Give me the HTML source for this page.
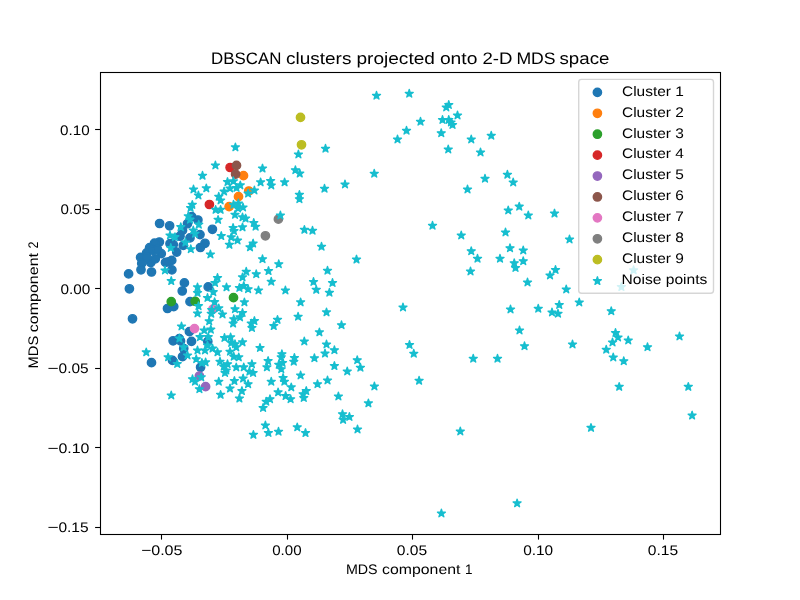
<!DOCTYPE html>
<html><head><meta charset="utf-8"><style>
html,body{margin:0;padding:0;background:#fff;}
svg{display:block;will-change:transform;}
text{font-family:"Liberation Sans", sans-serif;fill:#000;text-rendering:geometricPrecision;}
</style></head><body>
<svg width="800" height="600" viewBox="0 0 800 600">
<rect x="0" y="0" width="800" height="600" fill="#fff"/>
<defs><path id="st" d="M0.000 -4.167 L-0.935 -1.288 L-3.963 -1.288 L-1.514 0.492 L-2.449 3.371 L-0.000 1.592 L2.449 3.371 L1.514 0.492 L3.963 -1.288 L0.935 -1.288 Z"/></defs>
<g stroke-width="1.389" stroke-linejoin="round">
<g fill="#1f77b4" stroke="#1f77b4">
<circle cx="169.6" cy="225.8" r="4.167"/>
<circle cx="159.6" cy="223.5" r="4.167"/>
<circle cx="212.4" cy="229.3" r="4.167"/>
<circle cx="191.7" cy="216.65" r="4.167"/>
<circle cx="197.9" cy="220" r="4.167"/>
<circle cx="200" cy="234.6" r="4.167"/>
<circle cx="205" cy="243.3" r="4.167"/>
<circle cx="200.4" cy="247.5" r="4.167"/>
<circle cx="187.5" cy="223.7" r="4.167"/>
<circle cx="182.5" cy="230.4" r="4.167"/>
<circle cx="180" cy="236.2" r="4.167"/>
<circle cx="190" cy="237.9" r="4.167"/>
<circle cx="183.3" cy="245.4" r="4.167"/>
<circle cx="170" cy="243.7" r="4.167"/>
<circle cx="173.3" cy="244.6" r="4.167"/>
<circle cx="176.7" cy="252.1" r="4.167"/>
<circle cx="159.4" cy="242" r="4.167"/>
<circle cx="154.5" cy="243.15" r="4.167"/>
<circle cx="149.6" cy="247.65" r="4.167"/>
<circle cx="146.6" cy="252.9" r="4.167"/>
<circle cx="161.25" cy="253.65" r="4.167"/>
<circle cx="140.6" cy="257.4" r="4.167"/>
<circle cx="141.75" cy="263.4" r="4.167"/>
<circle cx="141" cy="269.8" r="4.167"/>
<circle cx="150.75" cy="262.65" r="4.167"/>
<circle cx="155.25" cy="258.9" r="4.167"/>
<circle cx="147" cy="257.4" r="4.167"/>
<circle cx="151.5" cy="272" r="4.167"/>
<circle cx="128.6" cy="273.9" r="4.167"/>
<circle cx="168.75" cy="261.9" r="4.167"/>
<circle cx="171.75" cy="260.4" r="4.167"/>
<circle cx="171.9" cy="269.9" r="4.167"/>
<circle cx="184.4" cy="282.9" r="4.167"/>
<circle cx="129.4" cy="288.8" r="4.167"/>
<circle cx="132.5" cy="318.8" r="4.167"/>
<circle cx="182.25" cy="291" r="4.167"/>
<circle cx="167.5" cy="308.5" r="4.167"/>
<circle cx="173.75" cy="306.65" r="4.167"/>
<circle cx="190" cy="301.65" r="4.167"/>
<circle cx="208.2" cy="286.9" r="4.167"/>
<circle cx="189.4" cy="331.65" r="4.167"/>
<circle cx="173.1" cy="340.8" r="4.167"/>
<circle cx="179.3" cy="338.6" r="4.167"/>
<circle cx="191.5" cy="341.4" r="4.167"/>
<circle cx="180.5" cy="340.9" r="4.167"/>
<circle cx="183.75" cy="348.5" r="4.167"/>
<circle cx="207.8" cy="341.4" r="4.167"/>
<circle cx="151.5" cy="362.65" r="4.167"/>
<circle cx="172.5" cy="360.4" r="4.167"/>
<circle cx="182.5" cy="356.65" r="4.167"/>
<circle cx="200.6" cy="367.3" r="4.167"/>
<circle cx="153" cy="250.4" r="4.167"/>
<circle cx="157.5" cy="249.4" r="4.167"/>
<circle cx="165.5" cy="262.4" r="4.167"/>
</g>
<g fill="#ff7f0e" stroke="#ff7f0e">
<circle cx="243.5" cy="175.65" r="4.167"/>
<circle cx="248.75" cy="191" r="4.167"/>
<circle cx="238.5" cy="196.65" r="4.167"/>
<circle cx="229.1" cy="206.65" r="4.167"/>
</g>
<g fill="#2ca02c" stroke="#2ca02c">
<circle cx="171.25" cy="301.65" r="4.167"/>
<circle cx="195.2" cy="301.4" r="4.167"/>
<circle cx="233.5" cy="297.65" r="4.167"/>
</g>
<g fill="#d62728" stroke="#d62728">
<circle cx="209.4" cy="204.5" r="4.167"/>
<circle cx="230.1" cy="167.5" r="4.167"/>
</g>
<g fill="#9467bd" stroke="#9467bd">
<circle cx="199.4" cy="376" r="4.167"/>
<circle cx="205.6" cy="386.65" r="4.167"/>
</g>
<g fill="#8c564b" stroke="#8c564b">
<circle cx="236.5" cy="165.4" r="4.167"/>
<circle cx="235.6" cy="174.15" r="4.167"/>
</g>
<g fill="#e377c2" stroke="#e377c2">
<circle cx="194.5" cy="328.6" r="4.167"/>
<circle cx="212.9" cy="309.15" r="4.167"/>
</g>
<g fill="#7f7f7f" stroke="#7f7f7f">
<circle cx="278.4" cy="219.15" r="4.167"/>
<circle cx="265.4" cy="235.8" r="4.167"/>
</g>
<g fill="#bcbd22" stroke="#bcbd22">
<circle cx="301.5" cy="144.8" r="4.167"/>
<circle cx="300.5" cy="117.4" r="4.167"/>
</g>
<g fill="#17becf" stroke="#17becf">
<use href="#st" x="215.4" y="165.4"/>
<use href="#st" x="202.5" y="175.7"/>
<use href="#st" x="193.5" y="189.4"/>
<use href="#st" x="206.3" y="188.3"/>
<use href="#st" x="198.4" y="195.4"/>
<use href="#st" x="192.3" y="204.8"/>
<use href="#st" x="190.6" y="207.9"/>
<use href="#st" x="218.75" y="196.65"/>
<use href="#st" x="220.6" y="200.4"/>
<use href="#st" x="215.6" y="209.8"/>
<use href="#st" x="220.6" y="209.8"/>
<use href="#st" x="235.4" y="147.3"/>
<use href="#st" x="298.4" y="154.4"/>
<use href="#st" x="262.5" y="168.5"/>
<use href="#st" x="295.4" y="170.15"/>
<use href="#st" x="299.75" y="173.5"/>
<use href="#st" x="260.6" y="182.3"/>
<use href="#st" x="270.6" y="181"/>
<use href="#st" x="271.25" y="185.4"/>
<use href="#st" x="284.6" y="182.3"/>
<use href="#st" x="299.4" y="194.8"/>
<use href="#st" x="299.4" y="199.15"/>
<use href="#st" x="280.4" y="215.4"/>
<use href="#st" x="254.4" y="190.4"/>
<use href="#st" x="248.1" y="193.5"/>
<use href="#st" x="227.5" y="182"/>
<use href="#st" x="233.4" y="181.2"/>
<use href="#st" x="240.3" y="185.3"/>
<use href="#st" x="224.1" y="191.5"/>
<use href="#st" x="230" y="188.4"/>
<use href="#st" x="238.4" y="203.4"/>
<use href="#st" x="243" y="207.4"/>
<use href="#st" x="376.5" y="95.65"/>
<use href="#st" x="409.25" y="93.65"/>
<use href="#st" x="446.25" y="107.4"/>
<use href="#st" x="448.75" y="104.9"/>
<use href="#st" x="457.5" y="115.4"/>
<use href="#st" x="442.5" y="119.9"/>
<use href="#st" x="448.75" y="119.9"/>
<use href="#st" x="452.5" y="124.9"/>
<use href="#st" x="420.5" y="121.65"/>
<use href="#st" x="406.5" y="130.65"/>
<use href="#st" x="397.5" y="139.4"/>
<use href="#st" x="441.25" y="133.15"/>
<use href="#st" x="471.25" y="139.4"/>
<use href="#st" x="491.25" y="135.65"/>
<use href="#st" x="480.5" y="152.4"/>
<use href="#st" x="448.25" y="149.4"/>
<use href="#st" x="325.5" y="148.65"/>
<use href="#st" x="374.25" y="173.65"/>
<use href="#st" x="345" y="184.4"/>
<use href="#st" x="324.5" y="188.65"/>
<use href="#st" x="485" y="178.65"/>
<use href="#st" x="467.5" y="189.4"/>
<use href="#st" x="507.4" y="174.7"/>
<use href="#st" x="513.2" y="182.4"/>
<use href="#st" x="508.25" y="210.4"/>
<use href="#st" x="519.25" y="206.6"/>
<use href="#st" x="528.3" y="215.4"/>
<use href="#st" x="554.5" y="213.5"/>
<use href="#st" x="188.3" y="216.2"/>
<use href="#st" x="190" y="219.6"/>
<use href="#st" x="198.75" y="224.6"/>
<use href="#st" x="180.8" y="227.1"/>
<use href="#st" x="193.3" y="230.4"/>
<use href="#st" x="195" y="233.7"/>
<use href="#st" x="170" y="235.4"/>
<use href="#st" x="175" y="237.1"/>
<use href="#st" x="185.4" y="242.5"/>
<use href="#st" x="170.8" y="247.9"/>
<use href="#st" x="190.8" y="249.15"/>
<use href="#st" x="210.4" y="254.4"/>
<use href="#st" x="165" y="270.4"/>
<use href="#st" x="171.25" y="281"/>
<use href="#st" x="218.1" y="219.8"/>
<use href="#st" x="235" y="214.8"/>
<use href="#st" x="242.5" y="217.3"/>
<use href="#st" x="245.6" y="218.5"/>
<use href="#st" x="253.75" y="222.9"/>
<use href="#st" x="255.6" y="226.65"/>
<use href="#st" x="233.1" y="227.9"/>
<use href="#st" x="242.5" y="227.3"/>
<use href="#st" x="234" y="231"/>
<use href="#st" x="221.25" y="236"/>
<use href="#st" x="231.25" y="237.3"/>
<use href="#st" x="237.5" y="240.4"/>
<use href="#st" x="229.4" y="244.8"/>
<use href="#st" x="253.1" y="243.5"/>
<use href="#st" x="250" y="247.3"/>
<use href="#st" x="262.5" y="259.15"/>
<use href="#st" x="278.75" y="264.15"/>
<use href="#st" x="246.25" y="271.65"/>
<use href="#st" x="242.5" y="277.3"/>
<use href="#st" x="256.25" y="274.15"/>
<use href="#st" x="268.5" y="271"/>
<use href="#st" x="271.25" y="281.65"/>
<use href="#st" x="217.5" y="277.9"/>
<use href="#st" x="215" y="282.9"/>
<use href="#st" x="304.4" y="229.8"/>
<use href="#st" x="312.5" y="230.65"/>
<use href="#st" x="321.5" y="246.65"/>
<use href="#st" x="356.5" y="259.5"/>
<use href="#st" x="327.5" y="270.65"/>
<use href="#st" x="313.5" y="281.9"/>
<use href="#st" x="332.5" y="282.9"/>
<use href="#st" x="432.5" y="225.65"/>
<use href="#st" x="461.25" y="235.4"/>
<use href="#st" x="505.5" y="232.4"/>
<use href="#st" x="569.5" y="239.4"/>
<use href="#st" x="471.25" y="251.15"/>
<use href="#st" x="477.5" y="258.65"/>
<use href="#st" x="500" y="258.65"/>
<use href="#st" x="510" y="248.15"/>
<use href="#st" x="523.25" y="250.4"/>
<use href="#st" x="514.25" y="263.15"/>
<use href="#st" x="515.5" y="267.9"/>
<use href="#st" x="523.25" y="261.15"/>
<use href="#st" x="470.5" y="271.4"/>
<use href="#st" x="527.5" y="282.4"/>
<use href="#st" x="550" y="275.4"/>
<use href="#st" x="555.5" y="269.9"/>
<use href="#st" x="566.25" y="289.4"/>
<use href="#st" x="403" y="307.4"/>
<use href="#st" x="510.5" y="309.4"/>
<use href="#st" x="538.25" y="308.65"/>
<use href="#st" x="559.25" y="304.9"/>
<use href="#st" x="552" y="312.4"/>
<use href="#st" x="558" y="313.65"/>
<use href="#st" x="579.25" y="302.4"/>
<use href="#st" x="519.5" y="330.4"/>
<use href="#st" x="409.5" y="344.9"/>
<use href="#st" x="413.75" y="353.65"/>
<use href="#st" x="524.5" y="346.15"/>
<use href="#st" x="572.5" y="344.4"/>
<use href="#st" x="473.25" y="358.65"/>
<use href="#st" x="497.5" y="358.65"/>
<use href="#st" x="633.6" y="270.2"/>
<use href="#st" x="621.4" y="287"/>
<use href="#st" x="611.25" y="311.15"/>
<use href="#st" x="615.5" y="332.9"/>
<use href="#st" x="618" y="337.4"/>
<use href="#st" x="612.5" y="342.4"/>
<use href="#st" x="628.25" y="340.4"/>
<use href="#st" x="606.25" y="349.65"/>
<use href="#st" x="613.25" y="357.4"/>
<use href="#st" x="623.75" y="361.15"/>
<use href="#st" x="647.5" y="347.15"/>
<use href="#st" x="679.5" y="336.4"/>
<use href="#st" x="619.2" y="386.8"/>
<use href="#st" x="688.3" y="386.8"/>
<use href="#st" x="692.1" y="415.5"/>
<use href="#st" x="591" y="427.8"/>
<use href="#st" x="419.1" y="380.7"/>
<use href="#st" x="460.3" y="431.4"/>
<use href="#st" x="441.4" y="513.4"/>
<use href="#st" x="517.1" y="503.3"/>
<use href="#st" x="197.5" y="287.3"/>
<use href="#st" x="197.5" y="292.9"/>
<use href="#st" x="207.5" y="297.9"/>
<use href="#st" x="198.5" y="306.1"/>
<use href="#st" x="197.5" y="313.4"/>
<use href="#st" x="181.5" y="326.4"/>
<use href="#st" x="179.4" y="338.5"/>
<use href="#st" x="183.75" y="347.3"/>
<use href="#st" x="146.25" y="352.3"/>
<use href="#st" x="213.3" y="292.1"/>
<use href="#st" x="214.6" y="302.1"/>
<use href="#st" x="218.75" y="308.3"/>
<use href="#st" x="222.5" y="314.4"/>
<use href="#st" x="211.25" y="313.7"/>
<use href="#st" x="211.7" y="310"/>
<use href="#st" x="209.2" y="321.2"/>
<use href="#st" x="204.2" y="330.4"/>
<use href="#st" x="210.8" y="329.6"/>
<use href="#st" x="200" y="337.1"/>
<use href="#st" x="208.3" y="337.1"/>
<use href="#st" x="224.5" y="337.9"/>
<use href="#st" x="226.5" y="287.3"/>
<use href="#st" x="239.4" y="287.9"/>
<use href="#st" x="243.75" y="286"/>
<use href="#st" x="248.1" y="289.15"/>
<use href="#st" x="258.5" y="290.4"/>
<use href="#st" x="285.4" y="290.4"/>
<use href="#st" x="244.4" y="302.3"/>
<use href="#st" x="300.6" y="302.3"/>
<use href="#st" x="235" y="309.15"/>
<use href="#st" x="242.5" y="312.9"/>
<use href="#st" x="240" y="317.3"/>
<use href="#st" x="233.75" y="319.15"/>
<use href="#st" x="233.1" y="323.5"/>
<use href="#st" x="254.4" y="321"/>
<use href="#st" x="251.25" y="323.5"/>
<use href="#st" x="251.9" y="327.9"/>
<use href="#st" x="277.5" y="319.8"/>
<use href="#st" x="273.75" y="326"/>
<use href="#st" x="298.1" y="316.65"/>
<use href="#st" x="230.6" y="337.3"/>
<use href="#st" x="231.25" y="342.9"/>
<use href="#st" x="235" y="344.15"/>
<use href="#st" x="242.5" y="342.3"/>
<use href="#st" x="260" y="347.9"/>
<use href="#st" x="304.3" y="341.4"/>
<use href="#st" x="212.5" y="348.5"/>
<use href="#st" x="217.5" y="352.3"/>
<use href="#st" x="230" y="351.65"/>
<use href="#st" x="281.9" y="354.15"/>
<use href="#st" x="207.5" y="345.4"/>
<use href="#st" x="316.25" y="289.8"/>
<use href="#st" x="329.4" y="292.65"/>
<use href="#st" x="326.5" y="312.3"/>
<use href="#st" x="341.5" y="325.15"/>
<use href="#st" x="319.4" y="332.3"/>
<use href="#st" x="326.5" y="344.4"/>
<use href="#st" x="334.4" y="350.15"/>
<use href="#st" x="325" y="353.5"/>
<use href="#st" x="168.1" y="357.3"/>
<use href="#st" x="177.25" y="363.9"/>
<use href="#st" x="187.5" y="355.4"/>
<use href="#st" x="197.5" y="350.4"/>
<use href="#st" x="205" y="350.4"/>
<use href="#st" x="196.25" y="359.15"/>
<use href="#st" x="201.9" y="362.9"/>
<use href="#st" x="205.6" y="362.3"/>
<use href="#st" x="220" y="361.65"/>
<use href="#st" x="223.75" y="366.65"/>
<use href="#st" x="226.25" y="370.4"/>
<use href="#st" x="225" y="372.9"/>
<use href="#st" x="192.5" y="379.15"/>
<use href="#st" x="195" y="381.65"/>
<use href="#st" x="201.25" y="377.3"/>
<use href="#st" x="199.4" y="389.15"/>
<use href="#st" x="218.75" y="381.65"/>
<use href="#st" x="220.6" y="394.8"/>
<use href="#st" x="171.25" y="395.4"/>
<use href="#st" x="236.25" y="347.3"/>
<use href="#st" x="233.75" y="356.65"/>
<use href="#st" x="238.75" y="357.3"/>
<use href="#st" x="227.5" y="364.15"/>
<use href="#st" x="236.25" y="367.3"/>
<use href="#st" x="243.75" y="367.3"/>
<use href="#st" x="251.9" y="364.15"/>
<use href="#st" x="253.1" y="372.9"/>
<use href="#st" x="249.4" y="371.65"/>
<use href="#st" x="268.1" y="361"/>
<use href="#st" x="266.9" y="367.3"/>
<use href="#st" x="281.25" y="357.3"/>
<use href="#st" x="282.5" y="362.9"/>
<use href="#st" x="278.75" y="364.8"/>
<use href="#st" x="281.25" y="369.15"/>
<use href="#st" x="294.4" y="357.9"/>
<use href="#st" x="293.75" y="361.65"/>
<use href="#st" x="300.6" y="375.4"/>
<use href="#st" x="234.4" y="381"/>
<use href="#st" x="243.1" y="378.5"/>
<use href="#st" x="248.1" y="384.15"/>
<use href="#st" x="271.25" y="381.65"/>
<use href="#st" x="283.1" y="377.9"/>
<use href="#st" x="284.4" y="381.65"/>
<use href="#st" x="291.25" y="387.3"/>
<use href="#st" x="230" y="388.5"/>
<use href="#st" x="241.9" y="391"/>
<use href="#st" x="239.4" y="398.5"/>
<use href="#st" x="278.1" y="392.3"/>
<use href="#st" x="285.6" y="396"/>
<use href="#st" x="290.6" y="399.15"/>
<use href="#st" x="270" y="399.15"/>
<use href="#st" x="266.25" y="401.65"/>
<use href="#st" x="263.1" y="407.9"/>
<use href="#st" x="303.1" y="394.15"/>
<use href="#st" x="314.4" y="358.15"/>
<use href="#st" x="334.4" y="366"/>
<use href="#st" x="357.25" y="360.15"/>
<use href="#st" x="360.4" y="367.65"/>
<use href="#st" x="347.25" y="371.4"/>
<use href="#st" x="327.5" y="380.4"/>
<use href="#st" x="317.5" y="384.15"/>
<use href="#st" x="374.4" y="386.4"/>
<use href="#st" x="306.25" y="391"/>
<use href="#st" x="303.75" y="397.9"/>
<use href="#st" x="338.4" y="396.4"/>
<use href="#st" x="368.4" y="403.3"/>
<use href="#st" x="342.5" y="414.15"/>
<use href="#st" x="343.1" y="419.8"/>
<use href="#st" x="349.4" y="416.9"/>
<use href="#st" x="253.4" y="434.8"/>
<use href="#st" x="265.4" y="425.4"/>
<use href="#st" x="268.4" y="432.9"/>
<use href="#st" x="278.5" y="431.65"/>
<use href="#st" x="297.25" y="427.3"/>
<use href="#st" x="305.5" y="433"/>
<use href="#st" x="357.5" y="429.4"/>
<use href="#st" x="236.5" y="187.9"/>
<use href="#st" x="238" y="208.4"/>
<use href="#st" x="451" y="122.4"/>
<use href="#st" x="233.5" y="204.7"/>
</g>
</g>
<rect x="100.5" y="72.5" width="620" height="462" fill="none" stroke="#000" stroke-width="1.1"/>
<line x1="161.5" y1="534" x2="161.5" y2="539.6" stroke="#000" stroke-width="1.1"/>
<line x1="287.5" y1="534" x2="287.5" y2="539.6" stroke="#000" stroke-width="1.1"/>
<line x1="412.5" y1="534" x2="412.5" y2="539.6" stroke="#000" stroke-width="1.1"/>
<line x1="538.5" y1="534" x2="538.5" y2="539.6" stroke="#000" stroke-width="1.1"/>
<line x1="663.5" y1="534" x2="663.5" y2="539.6" stroke="#000" stroke-width="1.1"/>
<line x1="95.1" y1="129.5" x2="101" y2="129.5" stroke="#000" stroke-width="1.1"/>
<line x1="95.1" y1="209.5" x2="101" y2="209.5" stroke="#000" stroke-width="1.1"/>
<line x1="95.1" y1="288.5" x2="101" y2="288.5" stroke="#000" stroke-width="1.1"/>
<line x1="95.1" y1="368.5" x2="101" y2="368.5" stroke="#000" stroke-width="1.1"/>
<line x1="95.1" y1="447.5" x2="101" y2="447.5" stroke="#000" stroke-width="1.1"/>
<line x1="95.1" y1="527.5" x2="101" y2="527.5" stroke="#000" stroke-width="1.1"/>
<rect x="578.7" y="79.4" width="134.8" height="213.9" rx="2.78" ry="2.78" fill="#fff" fill-opacity="0.8" stroke="#cccccc" stroke-opacity="0.8" stroke-width="1.39"/>
<circle cx="597.4" cy="92.40" r="4.167" fill="#1f77b4" stroke="#1f77b4" stroke-width="1.389"/>
<circle cx="597.4" cy="113.31" r="4.167" fill="#ff7f0e" stroke="#ff7f0e" stroke-width="1.389"/>
<circle cx="597.4" cy="134.22" r="4.167" fill="#2ca02c" stroke="#2ca02c" stroke-width="1.389"/>
<circle cx="597.4" cy="155.13" r="4.167" fill="#d62728" stroke="#d62728" stroke-width="1.389"/>
<circle cx="597.4" cy="176.04" r="4.167" fill="#9467bd" stroke="#9467bd" stroke-width="1.389"/>
<circle cx="597.4" cy="196.95" r="4.167" fill="#8c564b" stroke="#8c564b" stroke-width="1.389"/>
<circle cx="597.4" cy="217.86" r="4.167" fill="#e377c2" stroke="#e377c2" stroke-width="1.389"/>
<circle cx="597.4" cy="238.77" r="4.167" fill="#7f7f7f" stroke="#7f7f7f" stroke-width="1.389"/>
<circle cx="597.4" cy="259.68" r="4.167" fill="#bcbd22" stroke="#bcbd22" stroke-width="1.389"/>
<use href="#st" x="597.4" y="280.99" fill="#17becf" stroke="#17becf" stroke-width="1.389" stroke-linejoin="round"/>
<text x="211.00" y="64.00" font-size="16.67" textLength="70.40" lengthAdjust="spacingAndGlyphs">DBSCAN</text>
<text x="286.00" y="64.00" font-size="16.67" textLength="65.40" lengthAdjust="spacingAndGlyphs">clusters</text>
<text x="356.40" y="64.00" font-size="16.67" textLength="78.60" lengthAdjust="spacingAndGlyphs">projected</text>
<text x="439.90" y="64.00" font-size="16.67" textLength="37.50" lengthAdjust="spacingAndGlyphs">onto</text>
<text x="482.50" y="64.00" font-size="16.67" textLength="30.00" lengthAdjust="spacingAndGlyphs">2-D</text>
<text x="516.40" y="64.00" font-size="16.67" textLength="39.20" lengthAdjust="spacingAndGlyphs">MDS</text>
<text x="559.50" y="64.00" font-size="16.67" textLength="49.90" lengthAdjust="spacingAndGlyphs">space</text>
<text x="345.90" y="573.70" font-size="13.89" textLength="31.70" lengthAdjust="spacingAndGlyphs">MDS</text>
<text x="382.10" y="573.70" font-size="13.89" textLength="78.30" lengthAdjust="spacingAndGlyphs">component</text>
<text x="465.10" y="573.70" font-size="13.89" textLength="7.50" lengthAdjust="spacingAndGlyphs">1</text>
<text transform="translate(38.00,368.50) rotate(-90)" x="0" y="0" font-size="13.89" textLength="32.70" lengthAdjust="spacingAndGlyphs">MDS</text>
<text transform="translate(38.00,332.30) rotate(-90)" x="0" y="0" font-size="13.89" textLength="79.30" lengthAdjust="spacingAndGlyphs">component</text>
<text transform="translate(38.00,248.40) rotate(-90)" x="0" y="0" font-size="13.89" textLength="7.00" lengthAdjust="spacingAndGlyphs">2</text>
<text x="141.20" y="555.00" font-size="13.89" textLength="10.20" lengthAdjust="spacingAndGlyphs">−</text>
<text x="151.20" y="555.00" font-size="13.89" textLength="31.30" lengthAdjust="spacingAndGlyphs">0.05</text>
<text x="272.20" y="555.00" font-size="13.89" textLength="29.40" lengthAdjust="spacingAndGlyphs">0.00</text>
<text x="396.80" y="555.00" font-size="13.89" textLength="30.40" lengthAdjust="spacingAndGlyphs">0.05</text>
<text x="523.20" y="555.00" font-size="13.89" textLength="30.00" lengthAdjust="spacingAndGlyphs">0.10</text>
<text x="647.80" y="555.00" font-size="13.89" textLength="30.40" lengthAdjust="spacingAndGlyphs">0.15</text>
<text x="60.00" y="135.00" font-size="13.89" textLength="29.60" lengthAdjust="spacingAndGlyphs">0.10</text>
<text x="60.60" y="213.90" font-size="13.89" textLength="29.40" lengthAdjust="spacingAndGlyphs">0.05</text>
<text x="60.60" y="293.90" font-size="13.89" textLength="29.80" lengthAdjust="spacingAndGlyphs">0.00</text>
<text x="47.60" y="373.00" font-size="13.89" textLength="11.20" lengthAdjust="spacingAndGlyphs">−</text>
<text x="58.60" y="373.00" font-size="13.89" textLength="30.00" lengthAdjust="spacingAndGlyphs">0.05</text>
<text x="47.60" y="453.00" font-size="13.89" textLength="11.20" lengthAdjust="spacingAndGlyphs">−</text>
<text x="58.40" y="453.00" font-size="13.89" textLength="31.00" lengthAdjust="spacingAndGlyphs">0.10</text>
<text x="47.60" y="531.90" font-size="13.89" textLength="11.20" lengthAdjust="spacingAndGlyphs">−</text>
<text x="58.40" y="531.90" font-size="13.89" textLength="30.20" lengthAdjust="spacingAndGlyphs">0.15</text>
<text x="622.00" y="95.70" font-size="13.89" textLength="61.80" lengthAdjust="spacingAndGlyphs">Cluster 1</text>
<text x="622.00" y="116.61" font-size="13.89" textLength="61.80" lengthAdjust="spacingAndGlyphs">Cluster 2</text>
<text x="622.00" y="137.52" font-size="13.89" textLength="61.80" lengthAdjust="spacingAndGlyphs">Cluster 3</text>
<text x="622.00" y="158.43" font-size="13.89" textLength="61.80" lengthAdjust="spacingAndGlyphs">Cluster 4</text>
<text x="622.00" y="179.34" font-size="13.89" textLength="61.80" lengthAdjust="spacingAndGlyphs">Cluster 5</text>
<text x="622.00" y="200.25" font-size="13.89" textLength="61.80" lengthAdjust="spacingAndGlyphs">Cluster 6</text>
<text x="622.00" y="221.16" font-size="13.89" textLength="61.80" lengthAdjust="spacingAndGlyphs">Cluster 7</text>
<text x="622.00" y="242.07" font-size="13.89" textLength="61.80" lengthAdjust="spacingAndGlyphs">Cluster 8</text>
<text x="622.00" y="262.98" font-size="13.89" textLength="61.80" lengthAdjust="spacingAndGlyphs">Cluster 9</text>
<text x="621.50" y="283.90" font-size="13.89" textLength="85.90" lengthAdjust="spacingAndGlyphs">Noise points</text>
</svg>
</body></html>
